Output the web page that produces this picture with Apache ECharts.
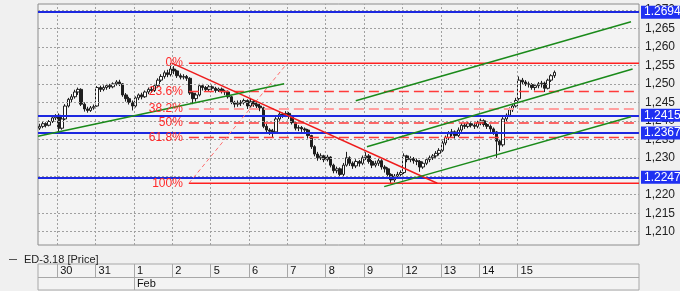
<!DOCTYPE html>
<html><head><meta charset="utf-8">
<script src="https://cdn.jsdelivr.net/npm/echarts@6/dist/echarts.min.js"></script>
<style>html,body{margin:0;padding:0;background:#f0f0f0}#c{width:680px;height:291px}</style>
</head><body><div id="c"></div>
<script>
// ---- price bars (one per slot, ~12 per trading day) ----
const opens = [1.2380,1.2385,1.2392,1.2388,1.2398,1.2408,1.2415,1.2380,1.2405,1.2440,1.2458,1.2465,1.2478,1.2485,1.2445,1.2432,1.2428,1.2435,1.2440,1.2490,
1.2485,1.2490,1.2495,1.2492,1.2500,1.2505,1.2500,1.2470,1.2460,1.2450,1.2440,1.2462,1.2470,1.2465,1.2478,1.2485,1.2482,1.2495,1.2510,1.2520,
1.2530,1.2525,1.2540,1.2535,1.2522,1.2518,1.2520,1.2515,1.2475,1.2460,1.2470,1.2495,1.2490,1.2485,1.2492,1.2488,1.2482,1.2486,1.2480,1.2478,
1.2465,1.2450,1.2445,1.2448,1.2450,1.2455,1.2440,1.2452,1.2445,1.2440,1.2435,1.2385,1.2375,1.2372,1.2370,1.2405,1.2418,1.2415,1.2420,1.2412,
1.2395,1.2380,1.2382,1.2378,1.2375,1.2360,1.2330,1.2310,1.2300,1.2305,1.2295,1.2302,1.2280,1.2265,1.2270,1.2255,1.2280,1.2300,1.2285,1.2278,
1.2290,1.2285,1.2300,1.2305,1.2290,1.2280,1.2285,1.2292,1.2275,1.2270,1.2255,1.2240,1.2250,1.2255,1.2260,1.2305,1.2295,1.2298,1.2292,1.2290,
1.2275,1.2285,1.2295,1.2300,1.2305,1.2312,1.2320,1.2340,1.2355,1.2365,1.2370,1.2360,1.2375,1.2388,1.2385,1.2392,1.2388,1.2385,1.2395,1.2400,
1.2390,1.2385,1.2378,1.2370,1.2345,1.2335,1.2405,1.2415,1.2430,1.2440,1.2460,1.2510,1.2505,1.2500,1.2498,1.2490,1.2495,1.2500,1.2502,1.2488,
1.2510,1.2522];
const closes = [1.2385,1.2392,1.2388,1.2398,1.2408,1.2412,1.2380,1.2405,1.2440,1.2458,1.2465,1.2478,1.2485,1.2445,1.2432,1.2428,1.2435,1.2438,1.2490,1.2485,
1.2490,1.2495,1.2492,1.2500,1.2505,1.2500,1.2470,1.2460,1.2450,1.2440,1.2462,1.2470,1.2465,1.2478,1.2485,1.2482,1.2495,1.2510,1.2520,1.2530,
1.2525,1.2540,1.2535,1.2522,1.2518,1.2520,1.2515,1.2475,1.2460,1.2470,1.2495,1.2490,1.2485,1.2492,1.2488,1.2482,1.2486,1.2480,1.2478,1.2465,
1.2450,1.2445,1.2448,1.2450,1.2455,1.2440,1.2452,1.2445,1.2440,1.2435,1.2385,1.2375,1.2372,1.2370,1.2405,1.2418,1.2415,1.2420,1.2412,1.2395,
1.2380,1.2382,1.2378,1.2375,1.2360,1.2330,1.2310,1.2300,1.2305,1.2295,1.2302,1.2280,1.2265,1.2270,1.2255,1.2280,1.2300,1.2285,1.2278,1.2290,
1.2285,1.2300,1.2305,1.2290,1.2280,1.2285,1.2292,1.2275,1.2270,1.2255,1.2240,1.2250,1.2255,1.2260,1.2305,1.2295,1.2298,1.2292,1.2290,1.2275,
1.2285,1.2295,1.2300,1.2305,1.2312,1.2320,1.2340,1.2355,1.2365,1.2370,1.2360,1.2375,1.2388,1.2385,1.2392,1.2388,1.2385,1.2395,1.2400,1.2390,
1.2385,1.2378,1.2370,1.2345,1.2335,1.2405,1.2415,1.2430,1.2440,1.2455,1.2510,1.2505,1.2500,1.2498,1.2490,1.2495,1.2500,1.2502,1.2488,1.2510,
1.2522,1.2531];
const lows = [1.2375,1.2380,1.2382,1.2385,1.2394,1.2402,1.2368,1.2376,1.2402,1.2436,1.2450,1.2460,1.2470,1.2440,1.2425,1.2422,1.2424,1.2430,1.2438,1.2478,
1.2480,1.2484,1.2486,1.2488,1.2495,1.2494,1.2465,1.2452,1.2444,1.2428,1.2436,1.2456,1.2458,1.2462,1.2472,1.2476,1.2478,1.2490,1.2505,1.2514,
1.2518,1.2520,1.2526,1.2516,1.2512,1.2512,1.2508,1.2470,1.2445,1.2452,1.2466,1.2482,1.2478,1.2480,1.2482,1.2476,1.2478,1.2474,1.2470,1.2460,
1.2445,1.2436,1.2438,1.2440,1.2444,1.2432,1.2436,1.2438,1.2430,1.2426,1.2380,1.2366,1.2362,1.2355,1.2366,1.2400,1.2408,1.2410,1.2405,1.2390,
1.2374,1.2372,1.2370,1.2368,1.2352,1.2324,1.2304,1.2292,1.2294,1.2288,1.2290,1.2274,1.2258,1.2258,1.2245,1.2250,1.2276,1.2278,1.2270,1.2272,
1.2276,1.2280,1.2294,1.2284,1.2272,1.2274,1.2278,1.2268,1.2260,1.2248,1.2232,1.2234,1.2244,1.2250,1.2256,1.2288,1.2288,1.2284,1.2280,1.2262,
1.2270,1.2280,1.2288,1.2294,1.2300,1.2306,1.2316,1.2334,1.2348,1.2358,1.2352,1.2356,1.2370,1.2378,1.2380,1.2382,1.2378,1.2380,1.2388,1.2384,
1.2378,1.2370,1.2362,1.2300,1.2318,1.2330,1.2398,1.2410,1.2424,1.2436,1.2455,1.2498,1.2494,1.2490,1.2484,1.2482,1.2488,1.2490,1.2478,1.2485,
1.2505,1.2516];
const highs = [1.2392,1.2398,1.2396,1.2402,1.2412,1.2418,1.2420,1.2410,1.2445,1.2462,1.2472,1.2484,1.2490,1.2488,1.2450,1.2438,1.2440,1.2444,1.2494,1.2495,
1.2496,1.2500,1.2500,1.2504,1.2510,1.2511,1.2502,1.2475,1.2465,1.2455,1.2466,1.2474,1.2476,1.2482,1.2490,1.2492,1.2500,1.2515,1.2526,1.2536,
1.2538,1.2556,1.2548,1.2538,1.2528,1.2526,1.2524,1.2518,1.2480,1.2476,1.2500,1.2500,1.2494,1.2497,1.2496,1.2492,1.2490,1.2490,1.2484,1.2482,
1.2468,1.2454,1.2455,1.2456,1.2460,1.2458,1.2462,1.2456,1.2450,1.2446,1.2438,1.2392,1.2380,1.2378,1.2410,1.2424,1.2422,1.2426,1.2424,1.2416,
1.2398,1.2388,1.2386,1.2382,1.2378,1.2362,1.2334,1.2316,1.2312,1.2308,1.2308,1.2304,1.2284,1.2276,1.2274,1.2286,1.2316,1.2304,1.2290,1.2296,
1.2294,1.2306,1.2315,1.2310,1.2294,1.2292,1.2298,1.2296,1.2280,1.2274,1.2258,1.2256,1.2262,1.2266,1.2312,1.2308,1.2304,1.2302,1.2298,1.2294,
1.2290,1.2300,1.2306,1.2310,1.2318,1.2326,1.2346,1.2360,1.2372,1.2378,1.2374,1.2382,1.2394,1.2394,1.2398,1.2396,1.2394,1.2400,1.2406,1.2404,
1.2394,1.2390,1.2382,1.2372,1.2350,1.2410,1.2420,1.2436,1.2446,1.2462,1.2520,1.2516,1.2510,1.2506,1.2502,1.2500,1.2505,1.2508,1.2506,1.2514,
1.2526,1.2536];

// ---- axis / table labels ----
const slotCount = 188;                 // bar slots across the plot
const dayLabels = ['30','31','1','2','5','6','7','8','9','12','13','14','15'];
const dayStartBar = [6,18,30,42,54,66,78,90,102,114,126,138,150];
const monthLabels = ['Feb'];
const monthStartBar = [30];
const yTicks = [1.210,1.215,1.220,1.225,1.230,1.235,1.240,1.245,1.250,1.255,1.260,1.265,1.270];
const yMin = 1.2064, yMax = 1.2716;

// ---- annotations (bar index, price) ----
const blueLevels = [1.2694, 1.2415, 1.2367, 1.2247];
const lastPrice = 1.2531;
const fibNames  = ['0%','23.6%','38.2%','50%','61.8%','100%'];
const fibPrices = [1.2556,1.2479,1.2432,1.2394,1.2355,1.2231];
const fibFrom = 46.7, fibTo = 187.5;
const fibDiag = [[46.7,1.2231],[77.5,1.2556]];
const redTrend = [[41.4,1.2556],[124.4,1.2231]];
const greenLines = [
  [[-0.5,1.2358],[76.5,1.2500]],
  [[98.9,1.2454],[185.0,1.2668]],
  [[102.4,1.2330],[185.5,1.2540]],
  [[107.8,1.2222],[185.0,1.2411]]
];
const seriesName = 'ED-3.18 [Price]';

const FONT = 'Liberation Sans';
const cats = Array.from({length: slotCount}, (_, i) => String(i));
const candles = opens.map((o, i) => [o, closes[i], lows[i], highs[i]]);

const gridLines = [];
yTicks.forEach(v => gridLines.push({yAxis: v}));
dayStartBar.forEach(b => gridLines.push({xAxis: b - 0.5}));

const blueMarks = blueLevels.map(v => ({
  yAxis: v,
  lineStyle: {color: '#1c28e0', width: 2, type: 'solid', opacity: 1},
  label: {show: true, position: 'end', distance: 2, formatter: v.toFixed(4),
    backgroundColor: '#1f30f2', color: '#fff', fontFamily: FONT, fontSize: 12, padding: [1, 4, 0, 3]}
}));
blueMarks.push({
  yAxis: lastPrice,
  lineStyle: {opacity: 0},
  label: {show: true, position: 'end', distance: 2, formatter: lastPrice.toFixed(4),
    backgroundColor: '#fff', borderColor: '#9a9a9a', borderWidth: 1, color: '#222', fontFamily: FONT, fontSize: 12, padding: [1, 4, 0, 3]}
});

const lineSeries = (pts, color, width, type, z) => ({
  type: 'line', xAxisIndex: 1, yAxisIndex: 0, data: pts, symbol: 'none', silent: true,
  lineStyle: {color, width, type, opacity: 1}, z: z || 5, animation: false
});

const fibSeries = fibPrices.map((p, k) => {
  const solid = (k === 0 || k === fibPrices.length - 1);
  const pale = fibNames[k] === '38.2%';
  return solid ? lineSeries([[fibFrom, p], [fibTo, p]], '#ff2020', 1.5, 'solid', 6)
       : pale ? lineSeries([[fibFrom, p], [fibTo, p]], '#ffa0a0', 2, [10, 5], 6)
       : lineSeries([[fibFrom, p], [fibTo, p]], '#ff3a3a', 1.5, [10, 5], 6);
});
const fibText = fibPrices.map((p, k) => ({name: fibNames[k], value: [fibFrom, p]}));

const tableLines = [[{coord: [-0.5, 1]}, {coord: [slotCount - 0.5, 1]}]];
dayStartBar.forEach(b => tableLines.push([{coord: [b - 0.5, 1]}, {coord: [b - 0.5, 2]}]));
monthStartBar.forEach(b => tableLines.push([{coord: [b - 0.5, 0]}, {coord: [b - 0.5, 1]}]));
const tableText = dayLabels.map((d, k) => ({name: d, value: [dayStartBar[k] - 0.5, 1.5]}))
  .concat(monthLabels.map((m, k) => ({name: m, value: [monthStartBar[k] - 0.5, 0.5]})));

const chart = echarts.init(document.getElementById('c'), null, {renderer: 'canvas'});
chart.setOption({
  animation: false,
  backgroundColor: '#f0f0f0',
  textStyle: {fontFamily: FONT},
  legend: {
    data: [{name: seriesName, icon: 'rect', itemStyle: {color: '#555', borderWidth: 0}}],
    left: 4, top: 249, itemWidth: 8, itemHeight: 1, itemGap: 4, selectedMode: false,
    textStyle: {fontSize: 11, color: '#222', fontFamily: FONT, padding: [0, 0, 0, 2]}
  },
  grid: [
    {left: 38, right: 41, top: 4, height: 241, show: true, borderColor: '#8c8c8c', borderWidth: 1, backgroundColor: '#f3f3f3'},
    {left: 38, right: 41, top: 264, height: 26, show: true, borderColor: '#a8a8a8', borderWidth: 1, backgroundColor: '#f3f3f3'}
  ],
  xAxis: [
    {type: 'category', gridIndex: 0, data: cats, boundaryGap: true, show: false},
    {type: 'value', gridIndex: 0, min: -0.5, max: slotCount - 0.5, show: false},
    {type: 'value', gridIndex: 1, min: -0.5, max: slotCount - 0.5, show: false}
  ],
  yAxis: [
    {type: 'value', gridIndex: 0, position: 'right', min: yMin, max: yMax, scale: true,
      axisLine: {show: false}, axisTick: {show: false}, splitLine: {show: false},
      axisLabel: {customValues: yTicks, margin: 6, color: '#222', fontSize: 12, fontFamily: FONT,
        formatter: v => v.toFixed(3).replace('.', ',')}},
    {type: 'value', gridIndex: 1, min: 0, max: 2, show: false}
  ],
  series: [
    {type: 'line', xAxisIndex: 1, yAxisIndex: 0, data: [], silent: true, z: 1,
      markLine: {silent: true, symbol: 'none', animation: false, precision: 6, label: {show: false},
        lineStyle: {color: '#a0a0a0', width: 1, type: [2, 2]}, data: gridLines}},
    {name: seriesName, type: 'candlestick', xAxisIndex: 0, yAxisIndex: 0, data: candles, barWidth: 3, z: 3,
      itemStyle: {color: '#ffffff', color0: '#1e1e1e', borderColor: '#1e1e1e', borderColor0: '#1e1e1e', borderWidth: 1}},
    {type: 'line', xAxisIndex: 1, yAxisIndex: 0, data: [], silent: true, z: 6,
      markLine: {silent: true, symbol: 'none', animation: false, precision: 6, data: blueMarks}},
    ...fibSeries,
    {type: 'scatter', xAxisIndex: 1, yAxisIndex: 0, data: fibText, symbolSize: 0, silent: true, z: 8,
      itemStyle: {opacity: 1},
      label: {show: true, position: 'left', distance: 6, formatter: '{b}', color: '#ff2a2a', fontSize: 12, fontFamily: FONT, opacity: 1}},
    lineSeries(fibDiag, '#ff7070', 1, [4, 3], 6),
    lineSeries(redTrend, '#ee1c1c', 1.5, 'solid', 7),
    ...greenLines.map(g => lineSeries(g, '#1a8a1a', 1.5, 'solid', 7)),
    {type: 'scatter', xAxisIndex: 2, yAxisIndex: 1, data: tableText, symbolSize: 0, silent: true,
      itemStyle: {opacity: 1},
      label: {show: true, position: 'right', distance: 3, formatter: '{b}', color: '#111', fontSize: 11, fontFamily: FONT, opacity: 1},
      markLine: {silent: true, symbol: 'none', animation: false, precision: 6, label: {show: false},
        lineStyle: {color: '#a8a8a8', width: 1, type: 'solid'}, data: tableLines}}
  ]
});
</script>
</body></html>
